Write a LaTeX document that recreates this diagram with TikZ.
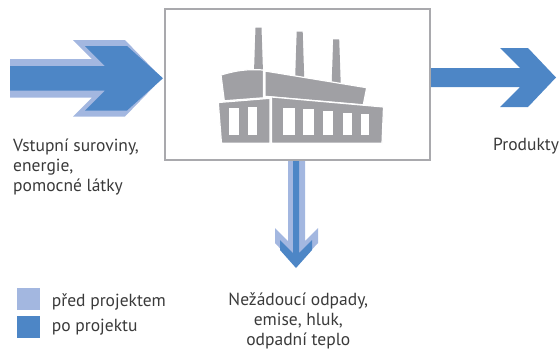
\documentclass[tikz,border=0pt]{standalone}
\usepackage{fontspec}
\setmainfont{PT Sans}
\definecolor{before}{HTML}{A3B7E0}
\definecolor{after}{HTML}{4D86C6}
\definecolor{plantgray}{HTML}{A0A0A4}
\definecolor{framegray}{HTML}{A9A9AD}
\definecolor{txt}{HTML}{3A3A3A}
\begin{document}
\begin{tikzpicture}[x=1pt, y=-1pt, line join=miter, font=\fontsize{17.5}{20}\selectfont, text=txt]
		\tikzset{label text/.style={inner sep=0pt, align=left}, hall/.style={fill=plantgray, draw=white, line width=1.2pt}, key/.style={inner sep=0pt, minimum width=23.3pt, minimum height=22pt}}
		\useasboundingbox (0,0) rectangle (560,351);
		% arrows
		\fill[before] (10,59) -- (92,59) -- (73,40) -- (125,40) -- (162,78.25) -- (125,116.5) -- (73,116.5) -- (92,97.5) -- (10,97.5) -- cycle;
		\fill[after] (10,66) -- (105,66) -- (85,46) -- (127,46) -- (163,78.25) -- (127,110.5) -- (85,110.5) -- (105,90.5) -- (10,90.5) -- cycle;
		\fill[after] (430,68) -- (520,68) -- (500,48) -- (528,48) -- (556,77.5) -- (528,107) -- (500,107) -- (520,87) -- (430,87) -- cycle;
		\fill[before] (288,160) -- (288,241) -- (275,228) -- (275,243) -- (296.5,266) -- (318,243) -- (318,228) -- (305,241) -- (305,160) -- cycle;
		\fill[after] (293,160) -- (293,253) -- (280,240) -- (280,250) -- (296,268) -- (312,250) -- (312,240) -- (299,253) -- (299,160) -- cycle;
		\node[draw=framegray, line width=2pt, inner sep=0pt, minimum width=265pt, minimum height=151pt] (plant) at (297,84) {};
		% factory
		\foreach \x/\t/\u in {258.5/27.7/72, 299.7/31.7/77, 336.2/39.3/83}
			\fill[plantgray] (\x-3,\t) -- (\x+3,\t) -- (\x+4.5,\u) -- (\x-4.5,\u) -- cycle;
		\draw[hall] (221,75) to[bend left=10] (263.5,70) -- (263.5,97.8) -- (224.3,100.8) -- cycle;
		\draw[hall] (265,71) -- (366.7,87.7) -- (363.3,104.8) -- (265,96.3) -- cycle;
		\draw[hall] (218.3,102.5) -- (270,98.3) -- (270,143.3) -- (221.5,143.3) -- cycle;
		\draw[hall] (271.5,97) -- (383.5,107) -- (382,143.3) -- (271.5,143.3) -- cycle;
		\foreach \x/\w/\t in {229/10/108, 247.7/9.3/107, 283.3/11.7/107.7, 303.3/10.7/109.3, 323.3/10/111, 343.3/9/112.7, 360.7/8.6/114.3}
			\fill[white] (\x,\t) rectangle ({\x+\w},135);
		% labels
		\node[label text, anchor=base west] (inputs) at (13,191.7) {Vstupní suroviny,\\energie,\\pomocné látky};
		\node[inner sep=0pt, anchor=base west] (products) at (493,150) {Produkty};
		\node[label text, align=center, anchor=base] (waste) at (298.3,345) {Nežádoucí odpady,\\emise, hluk,\\odpadní teplo};
		% legend
		\node[key, fill=before] (kbefore) at (28.3,299) {};
		\node[key, fill=after] (kafter) at (28.3,327) {};
		\node[inner sep=0pt, anchor=base west] (tbefore) at (51.7,306.7) {před projektem};
		\node[inner sep=0pt, anchor=base west] (tafter) at (51.7,331.7) {po projektu};
\end{tikzpicture}
\end{document}
